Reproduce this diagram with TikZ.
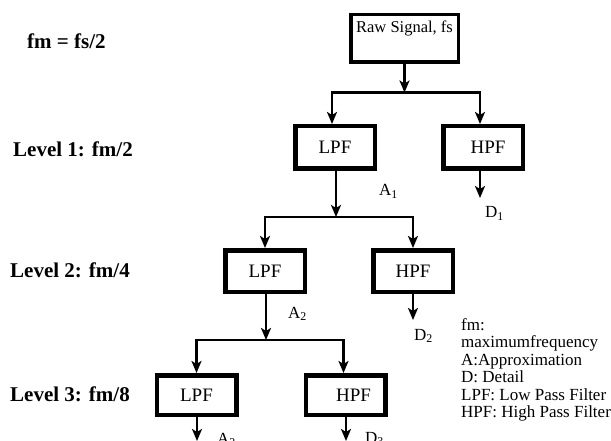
\documentclass[tikz,border=0pt]{standalone}
\usepackage{fontspec}
\setmainfont{Liberation Serif}
\usetikzlibrary{arrows.meta}

\begin{document}
\begin{tikzpicture}[x=1pt,y=-1pt,
  filt/.style={draw, line width=4.5pt, minimum width=79.5pt, inner sep=0pt,
    font=\fontsize{19}{22}\selectfont},
  conn/.style={line width=2.5pt},
  arr/.style={conn, -{Stealth[length=12pt,width=10pt,inset=3pt]}},
  sig/.style={font=\fontsize{17}{20}\selectfont, inner sep=0pt, anchor=base west},
  lvl/.style={font=\bfseries\fontsize{21}{24}\selectfont, inner sep=0pt, anchor=base west}]
\useasboundingbox (0,0) rectangle (611,441);

% input block
\node[draw, line width=3.5pt, minimum width=107.5pt, minimum height=47.5pt, inner sep=0pt,
  label={[anchor=north, inner sep=0pt, yshift=-8pt, font=\fontsize{16.5}{20}\selectfont]north:{Raw Signal, fs}}]
  (raw) at (404.5,38.5) {};

% filter banks, one row per level
\node[filt, minimum height=42.5pt] (lpf1) at (335,147.5) {LPF};
\node[filt, minimum height=42.5pt] (hpf1) at (483,147.5) {\hspace*{10pt}HPF};
\node[filt, minimum height=41.5pt] (lpf2) at (265,271) {LPF};
\node[filt, minimum height=41.5pt] (hpf2) at (413,271) {HPF};
\node[filt, minimum height=39.5pt] (lpf3) at (196.5,395) {LPF};
\node[filt, minimum height=39.5pt] (hpf3) at (345.5,395) {\hspace*{16pt}HPF};

% branch points and free arrow ends
\coordinate (s1) at (404.5,92.5);
\coordinate (s2) at (336,217);
\coordinate (s3) at (266,340);
\coordinate (d1tip) at (480,198);
\coordinate (d2tip) at (413,320);
\coordinate (a3tip) at (197,441);
\coordinate (d3tip) at (346,441);

% connectors
\draw[arr] (raw.south) -- (s1);
\draw[arr] (s1) -| ([xshift=-3pt]lpf1.north);
\draw[arr] (s1) -| ([xshift=-3pt]hpf1.north);
\draw[arr] ([xshift=-3pt]hpf1.south) -- (d1tip);
\draw[arr] ([xshift=1pt]lpf1.south) -- (s2);
\draw[arr] (s2) -| (lpf2.north);
\draw[arr] (s2) -| (hpf2.north);
\draw[arr] (hpf2.south) -- (d2tip);
\draw[arr] ([xshift=1pt]lpf2.south) -- (s3);
\draw[arr] (s3) -| (lpf3.north);
\draw[arr] (s3) -| ([xshift=-2pt]hpf3.north);
\draw[arr] ([xshift=0.5pt]lpf3.south) -- (a3tip);
\draw[arr] ([xshift=0.5pt]hpf3.south) -- (d3tip);

% signal labels
\node[sig] (a1) at (379,196) {A\textsubscript{1}};
\node[sig] (d1) at (485,218) {D\textsubscript{1}};
\node[sig] (a2) at (288,318) {A\textsubscript{2}};
\node[sig] (d2) at (414,340) {D\textsubscript{2}};
\node[sig] (a3) at (217,444) {A\textsubscript{3}};
\node[sig] (d3) at (365,443) {D\textsubscript{3}};

% level annotations
\node[lvl] (lvl0) at (27,49) {fm = fs/2};
\node[lvl] (lvl1) at (13,157) {Level 1: fm/2};
\node[lvl] (lvl2) at (10,277) {Level 2: fm/4};
\node[lvl] (lvl3) at (10,401) {Level 3: fm/8};

% legend
\node[font=\fontsize{17}{17.5}\selectfont, align=left, anchor=north west, inner sep=0pt]
  (legend) at (461,318)
  {fm:\\maximumfrequency\\A:Approximation\\D: Detail\\LPF: Low Pass Filter\\HPF: High Pass Filter};
\end{tikzpicture}
\end{document}
